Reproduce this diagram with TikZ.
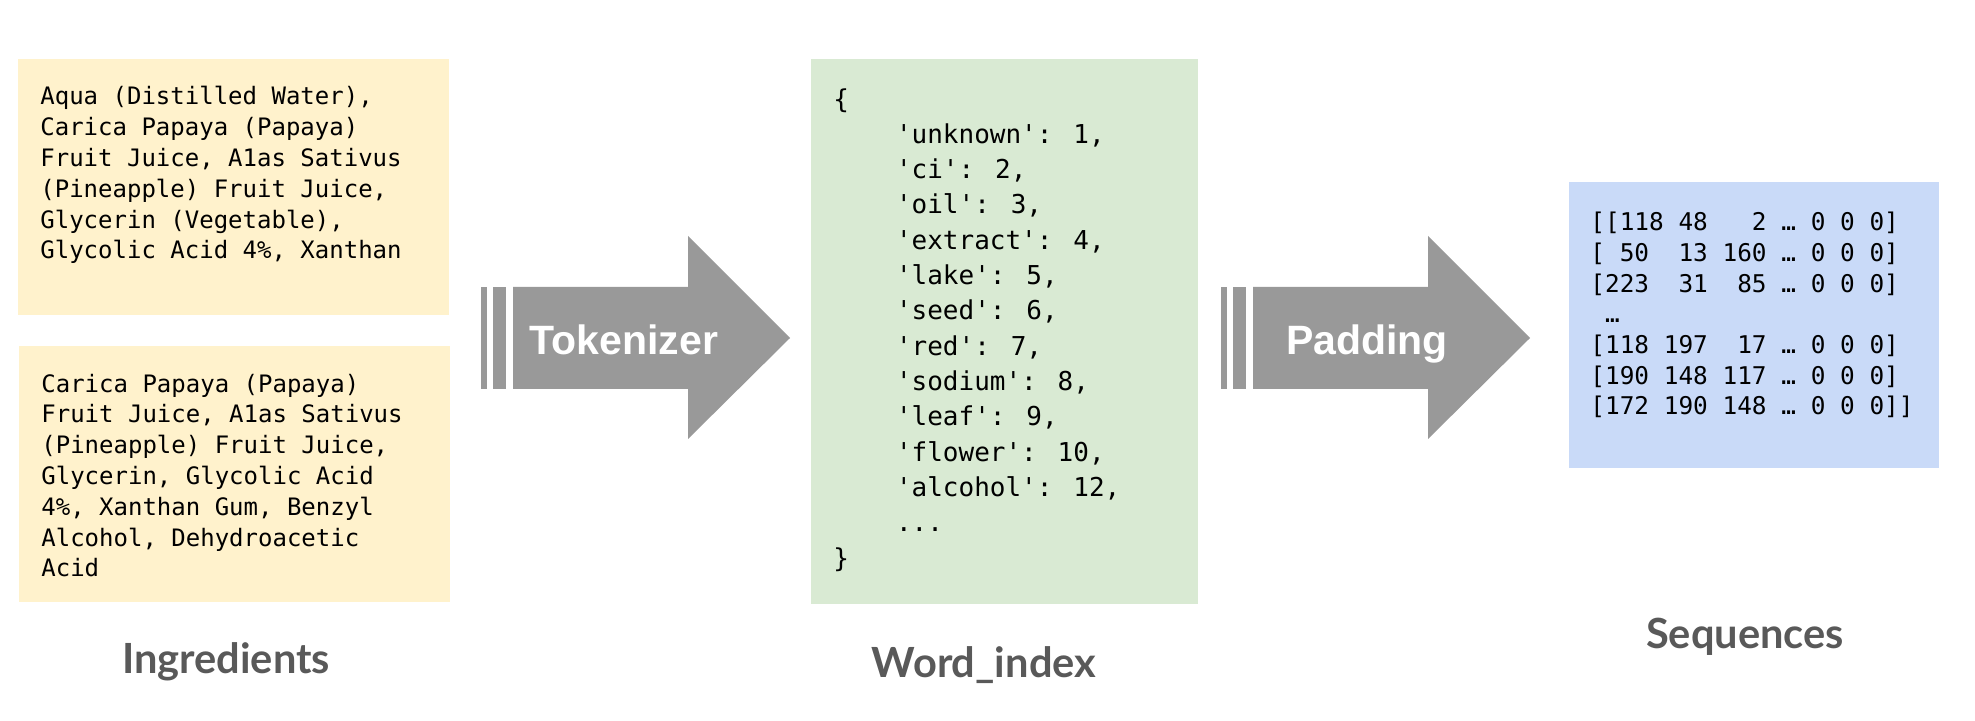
\documentclass[tikz,border=0pt]{standalone}
\usepackage{fontspec}
\newfontfamily\codefont{DejaVu Sans Mono}
\newfontfamily\arrowfont{Liberation Sans}
\newfontfamily\capfont{Lato}
\definecolor{ingyellow}{HTML}{FFF2CC}
\definecolor{wordgreen}{HTML}{D9EAD3}
\definecolor{seqblue}{HTML}{C9DAF8}
\definecolor{arrowgray}{HTML}{999999}
\definecolor{capgray}{HTML}{595959}
\tikzstyle{panel}=[anchor=north west, inner sep=0pt, minimum width=215.5pt]
\tikzstyle{code}=[anchor=base west, inner sep=0pt, align=left]
\tikzstyle{caption}=[anchor=base, inner sep=0pt, text=capgray, font=\capfont\bfseries\fontsize{20.8}{24}\selectfont]
\tikzstyle{arrowlabel}=[anchor=base, inner sep=0pt, text=white, font=\arrowfont\bfseries\fontsize{20.5}{24}\selectfont]
\newcommand{\panel}{\node[panel]}

\begin{document}
\begin{tikzpicture}[x=0.5pt, y=-0.5pt]
\useasboundingbox (0,0) rectangle (1975,721);
\panel (ing1) at (18,59) [fill=ingyellow, minimum height=128pt]{};
\panel (ing2) at (19,346) [fill=ingyellow, minimum height=128pt]{};
\panel (words) at (811,58.6) [fill=wordgreen, minimum width=193.5pt, minimum height=272.5pt]{};
\panel (seqs) at (1569,182) [fill=seqblue, minimum width=185pt, minimum height=143pt]{};

\node[code, font=\codefont\fontsize{12}{15.4}\selectfont] (ing1text) at ([shift={(22,200)}]ing1.north west)
  {Aqua (Distilled Water),\\Carica Papaya (Papaya)\\Fruit Juice, A1as Sativus\\(Pineapple) Fruit Juice,\\Glycerin (Vegetable),\\Glycolic Acid 4\%, Xanthan};
\node[code, font=\codefont\fontsize{12}{15.4}\selectfont] (ing2text) at ([shift={(22,230.8)}]ing2.north west)
  {Carica Papaya (Papaya)\\Fruit Juice, A1as Sativus\\(Pineapple) Fruit Juice,\\Glycerin, Glycolic Acid\\4\%, Xanthan Gum, Benzyl\\Alcohol, Dehydroacetic\\Acid};
\node[code, font=\codefont\fontsize{13}{17.65}\selectfont] (wordtext) at ([shift={(22,508.4)}]words.north west)
  {\{\\~~~~'unknown': 1,\\~~~~'ci': 2,\\~~~~'oil': 3,\\~~~~'extract': 4,\\~~~~'lake': 5,\\~~~~'seed': 6,\\~~~~'red': 7,\\~~~~'sodium': 8,\\~~~~'leaf': 9,\\~~~~'flower': 10,\\~~~~'alcohol': 12,\\~~~~...\\\}};
\node[code, font=\codefont\fontsize{12.2}{15.35}\selectfont] (seqtext) at ([shift={(21,233)}]seqs.north west)
  {[[118 48~~~2 … 0 0 0]\\{[}~50~~13 160 … 0 0 0]\\{[}223~~31~~85 … 0 0 0]\\~…\\{[}118 197~~17 … 0 0 0]\\{[}190 148 117 … 0 0 0]\\{[}172 190 148 … 0 0 0]]};

\foreach \dx/\word/\tx in {0/Tokenizer/624, 740/Padding/627}{
  \begin{scope}[xshift=\dx*0.5pt]
  \fill[arrowgray] (481,287) rectangle (487,389);
  \fill[arrowgray] (493,287) rectangle (506,389);
  \fill[arrowgray] (513,287) -- (688,287) -- (688,236) -- (790,338) -- (688,439) -- (688,389) -- (513,389) -- cycle;
  \node[arrowlabel] (\word) at (\tx,355) {\word};
  \end{scope}
}

\node[caption] (ingcap) at (226,673) {Ingredients};
\node[caption] (wordcap) at (984,677) {Word\_index};
\node[caption] (seqcap) at (1745,648) {Sequences};
\end{tikzpicture}
\end{document}
